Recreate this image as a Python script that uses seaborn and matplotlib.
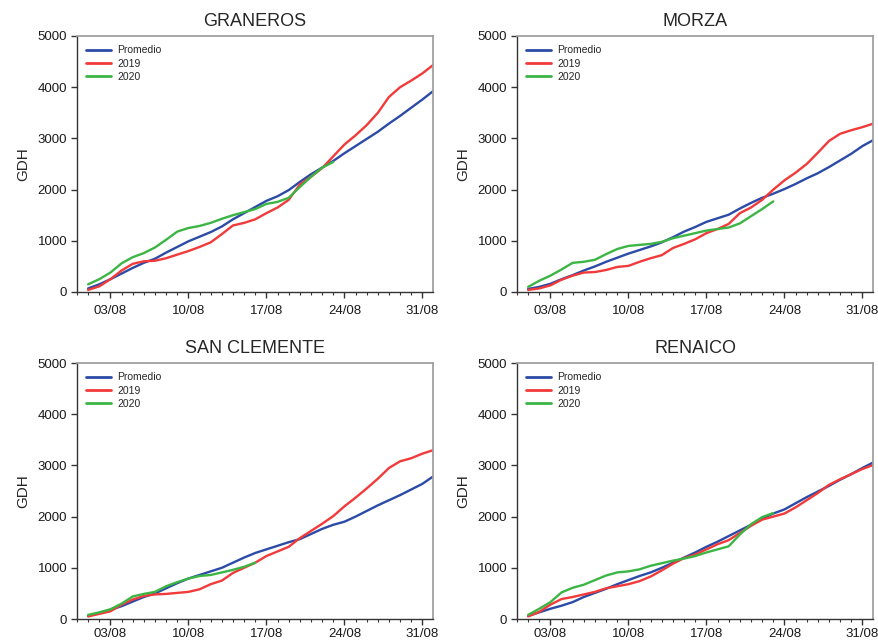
import numpy as np
import pandas as pd
import matplotlib
matplotlib.use("Agg")
import matplotlib.pyplot as plt
import seaborn as sns
from matplotlib.ticker import FixedLocator, MultipleLocator

sns.set_theme(style="white")
plt.rcParams['font.family'] = ['Liberation Sans', 'DejaVu Sans']

# Day of August (1..32, 32 = 01/09)
days_full = list(range(1, 33))
tick_days = [3, 10, 17, 24, 31]
tick_labels = ["03/08", "10/08", "17/08", "24/08", "31/08"]
series_names = ["Promedio", "2019", "2020"]
panels = ["GRANEROS", "MORZA", "SAN CLEMENTE", "RENAICO"]

graneros_prom = [70, 150, 250, 360, 470, 570, 650, 770, 880, 990, 1080, 1170, 1280, 1420, 1540, 1660,
                 1780, 1870, 1990, 2150, 2300, 2430, 2560, 2710, 2850, 2990, 3130, 3290, 3440, 3600, 3760, 3930]
graneros_2019 = [40, 110, 250, 420, 550, 600, 610, 660, 730, 800, 880, 970, 1130, 1300, 1350, 1420,
                 1540, 1650, 1800, 2100, 2250, 2420, 2650, 2880, 3060, 3260, 3500, 3810, 4000, 4130, 4270, 4440]
graneros_2020 = [150, 250, 380, 560, 680, 760, 870, 1020, 1180, 1250, 1290, 1350, 1430, 1500, 1560, 1620,
                 1720, 1760, 1840, 2050, 2250, 2430, 2540]

morza_prom = [60, 100, 160, 250, 330, 420, 500, 590, 670, 750, 820, 890, 970, 1070, 1180, 1270,
              1370, 1440, 1510, 1630, 1740, 1840, 1920, 2010, 2110, 2220, 2320, 2440, 2570, 2700, 2850, 2970]
morza_2019 = [40, 70, 130, 240, 320, 380, 390, 430, 490, 510, 590, 660, 720, 860, 940, 1030,
              1150, 1230, 1330, 1540, 1650, 1800, 2000, 2180, 2330, 2500, 2720, 2950, 3090, 3160, 3220, 3290]
morza_2020 = [100, 220, 320, 440, 570, 590, 630, 740, 840, 900, 920, 940, 980, 1050, 1100, 1150,
              1200, 1230, 1260, 1340, 1480, 1620, 1770]

sanclemente_prom = [60, 120, 180, 250, 340, 430, 500, 600, 700, 790, 860, 930, 1000, 1100, 1200, 1290,
                    1360, 1430, 1500, 1560, 1660, 1760, 1840, 1900, 2000, 2110, 2220, 2320, 2420, 2530, 2640, 2790]
sanclemente_2019 = [50, 100, 150, 280, 380, 450, 480, 490, 510, 530, 580, 680, 750, 900, 1000, 1100,
                    1230, 1320, 1410, 1580, 1720, 1860, 2010, 2200, 2370, 2550, 2740, 2950, 3080, 3140, 3230, 3300]
sanclemente_2020 = [80, 130, 190, 300, 440, 490, 530, 640, 720, 790, 840, 860, 910, 960, 1020, 1100]

renaico_prom = [60, 130, 200, 260, 330, 430, 510, 590, 680, 760, 840, 910, 1000, 1100, 1200, 1300,
                1410, 1510, 1620, 1730, 1840, 1960, 2060, 2140, 2260, 2380, 2490, 2600, 2720, 2830, 2950, 3060]
renaico_2019 = [50, 140, 280, 390, 430, 480, 530, 600, 640, 680, 740, 830, 950, 1080, 1190, 1260,
                1360, 1460, 1540, 1680, 1820, 1940, 2000, 2060, 2180, 2320, 2460, 2620, 2730, 2830, 2930, 3010]
renaico_2020 = [80, 200, 330, 520, 610, 670, 760, 850, 910, 930, 970, 1040, 1090, 1140, 1180, 1230,
                1300, 1360, 1420, 1650, 1850, 1990, 2070]

panel_data = {
    "GRANEROS": [graneros_prom, graneros_2019, graneros_2020],
    "MORZA": [morza_prom, morza_2019, morza_2020],
    "SAN CLEMENTE": [sanclemente_prom, sanclemente_2019, sanclemente_2020],
    "RENAICO": [renaico_prom, renaico_2019, renaico_2020],
}

palette = {"Promedio": "#2b4ba6", "2019": "#f23a3a", "2020": "#3cb545"}

W, H = 879, 640
fig = plt.figure(figsize=(W / 100, H / 100), dpi=100)

# axes rectangles in pixels: (left, top, right, bottom)
rects = [(77, 36, 433, 292), (517, 36, 873, 292), (77, 363, 433, 619), (517, 363, 873, 619)]
xpads = [5, 5, 2.5, 2.5]

for name, (l, t, r, b), xpad in zip(panels, rects, xpads):
    ax = fig.add_axes([l / W, 1 - b / H, (r - l) / W, (b - t) / H])
    rows = []
    for sname, vals in zip(series_names, panel_data[name]):
        for d, v in zip(days_full, vals):
            rows.append({"day": d, "GDH": v, "serie": sname})
    df = pd.DataFrame(rows)
    sns.lineplot(data=df, x="day", y="GDH", hue="serie", hue_order=series_names,
                 palette=palette, linewidth=1.7, ax=ax, legend=True)
    ax.set_xlim(0, 31.95)
    ax.set_ylim(0, 5000)
    ax.set_yticks([0, 1000, 2000, 3000, 4000, 5000])
    ax.xaxis.set_major_locator(FixedLocator(tick_days))
    ax.set_xticklabels(tick_labels)
    ax.xaxis.set_minor_locator(MultipleLocator(1))
    ax.set_xlabel("")
    ax.set_ylabel("GDH", fontsize=11, labelpad=5)
    ax.set_title(name, fontsize=13, pad=7)
    for s in ["left", "bottom"]:
        ax.spines[s].set_color("#333333")
        ax.spines[s].set_linewidth(1.0)
    for s in ["top", "right"]:
        ax.spines[s].set_color("#a0a0a0")
        ax.spines[s].set_linewidth(1.3)
    ax.tick_params(axis="both", which="major", direction="out", length=4, width=1,
                   color="#333333", labelsize=9.5, labelcolor="#1a1a1a", pad=3)
    ax.tick_params(axis="x", which="minor", direction="out", length=2.5, width=0.8,
                   color="#333333", bottom=True)
    ax.tick_params(axis="x", which="major", pad=xpad, bottom=True)
    ax.tick_params(axis="y", which="major", left=True)
    leg = ax.legend(loc="upper left", frameon=False, fontsize=7.5, handlelength=2.4,
                    handletextpad=0.6, labelspacing=0.3, borderaxespad=0.5)
    for line in leg.get_lines():
        line.set_linewidth(2.0)

fig.savefig("out.png", dpi=100)
